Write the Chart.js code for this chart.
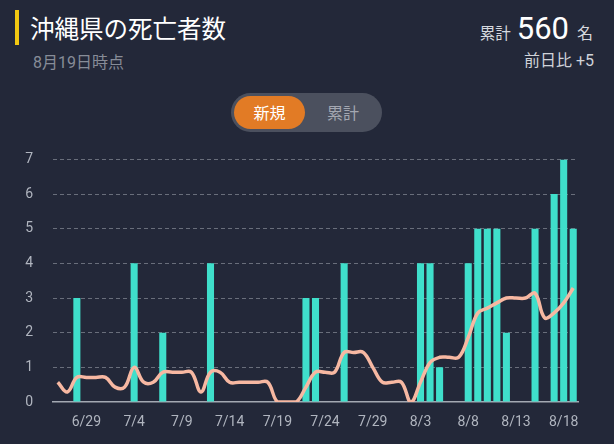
<!DOCTYPE html>
<html lang="ja">
<head>
<meta charset="utf-8">
<script src="https://cdn.jsdelivr.net/npm/chart.js@4"></script>
<style>
  html, body { margin:0; padding:0; }
  body { width:614px; height:444px; background:#232839; position:relative; overflow:hidden;
         font-family: Roboto, "Noto Sans CJK JP", sans-serif; }
  .bar { position:absolute; left:15px; top:10px; width:4px; height:35px; background:#f2c811; }
  .title { position:absolute; left:30px; top:11px; font-size:24.5px; color:#ffffff; font-family:"Noto Sans CJK JP", sans-serif; line-height:34px; white-space:nowrap; }
  .sub { position:absolute; left:33px; top:53px; font-size:16px; color:#878c98; font-family: Roboto, "Noto Sans CJK JP", sans-serif; line-height:20px; white-space:nowrap; }
  .total { position:absolute; right:21px; top:12px; color:#d6d9df; white-space:nowrap; line-height:34px; }
  .total .lab { font-size:15.5px; font-family:"Noto Sans CJK JP", sans-serif; }
  .total .num { font-size:31px; color:#ffffff; font-family:Roboto, sans-serif; margin:0 8px 0 6px; }
  .total .unit { font-size:16px; font-family:"Noto Sans CJK JP", sans-serif; }
  .diff { position:absolute; right:20px; top:51px; font-size:16px; color:#d0d3d9; line-height:20px; white-space:nowrap; font-family: Roboto, "Noto Sans CJK JP", sans-serif; }
  .toggle { position:absolute; left:231px; top:93px; width:151px; height:39px; border-radius:20px; background:#4b505e; }
  .toggle .on { position:absolute; left:3px; top:3px; width:71px; height:33px; border-radius:17px; background:#e27b25; color:#fff; font-size:16px; text-align:center; line-height:33px; font-family:"Noto Sans CJK JP", sans-serif; }
  .toggle .off { position:absolute; left:76px; top:3px; width:72px; height:33px; color:#a3a7b1; font-size:16px; text-align:center; line-height:33px; font-family:"Noto Sans CJK JP", sans-serif; }
  #wrap { position:absolute; left:0; top:131px; width:614px; height:313px; }
</style>
</head>
<body>
<div class="bar"></div>
<div class="title">沖縄県の死亡者数</div>
<div class="sub">8月19日時点</div>
<div class="total"><span class="lab">累計</span><span class="num">560</span><span class="unit">名</span></div>
<div class="diff">前日比 +5</div>
<div class="toggle"><div class="on">新規</div><div class="off">累計</div></div>
<div id="wrap"><canvas id="c"></canvas></div>
<script>
const dates = [
  "6/26","6/27","6/28","6/29","6/30",
  "7/1","7/2","7/3","7/4","7/5","7/6","7/7","7/8","7/9","7/10",
  "7/11","7/12","7/13","7/14","7/15","7/16","7/17","7/18","7/19","7/20",
  "7/21","7/22","7/23","7/24","7/25","7/26","7/27","7/28","7/29","7/30","7/31",
  "8/1","8/2","8/3","8/4","8/5","8/6","8/7","8/8","8/9","8/10",
  "8/11","8/12","8/13","8/14","8/15","8/16","8/17","8/18","8/19"
];
const dailyDeaths = [
  0,0,3,0,0,
  0,0,0,4,0,0,2,0,0,0,
  0,4,0,0,0,0,0,0,0,0,
  0,3,3,0,0,4,0,0,0,0,0,
  0,0,4,4,1,0,0,4,5,5,
  5,2,0,0,5,0,6,7,5
];
const avg7 = [
  0.57,0.29,0.71,0.71,0.71,
  0.71,0.43,0.43,1.00,0.57,0.57,0.86,0.86,0.86,0.86,
  0.29,0.86,0.86,0.57,0.57,0.57,0.57,0.57,0,0,
  0,0.43,0.86,0.86,0.86,1.43,1.43,1.43,1.00,0.57,0.57,
  0.57,0,0.57,1.14,1.29,1.29,1.29,1.86,2.57,2.71,
  2.86,3.00,3.00,3.00,3.14,2.43,2.57,2.86,3.29
];
const yTicks = [0,1,2,3,4,5,6,7];
const shownDates = ["6/29","7/4","7/9","7/14","7/19","7/24","7/29","8/3","8/8","8/13","8/18"];

const tickColor = '#b0b5bf';
new Chart(document.getElementById('c'), {
  data: {
    labels: dates,
    datasets: [
      { type:'line', data: avg7, borderColor:'#f7b8a2', borderWidth:3.5, pointRadius:0,
        tension:0.4, order:0, fill:false },
      { type:'bar', data: dailyDeaths, backgroundColor:'#3fdfcb', borderWidth:0,
        barPercentage:0.74, categoryPercentage:1.0, order:1 }
    ]
  },
  options: {
    responsive:true, maintainAspectRatio:false, animation:false,
    layout: { padding: { top:13, right:36, left:0, bottom:0 } },
    plugins: { legend:{display:false}, tooltip:{enabled:false} },
    scales: {
      x: {
        offset:true,
        grid: { display:false, drawTicks:false },
        border: { display:true, color:'#a3a8b2', width:1.5 },
        ticks: {
          autoSkip:false, maxRotation:0, padding:12, color:tickColor,
          font:{ family:'Roboto, "Noto Sans CJK JP", sans-serif', size:14 },
          callback: function(v, i){ const l = dates[i]; return shownDates.includes(l) ? l : ''; }
        },
        afterFit: s => { s.height = 42; }
      },
      y: {
        min:0, max:7,
        afterBuildTicks: s => { s.ticks = yTicks.map(v => ({ value:v })); },
        grid: { drawTicks:false, color: c => c.index === 0 ? 'rgba(0,0,0,0)' : 'rgba(190,195,205,0.45)', lineWidth:1 },
        border: { display:false, dash:[4,3] },
        ticks: { padding:20, color:tickColor, font:{ family:'Roboto, sans-serif', size:14 } },
        afterFit: s => { s.width = 53; }
      }
    }
  }
});
</script>
</body>
</html>
